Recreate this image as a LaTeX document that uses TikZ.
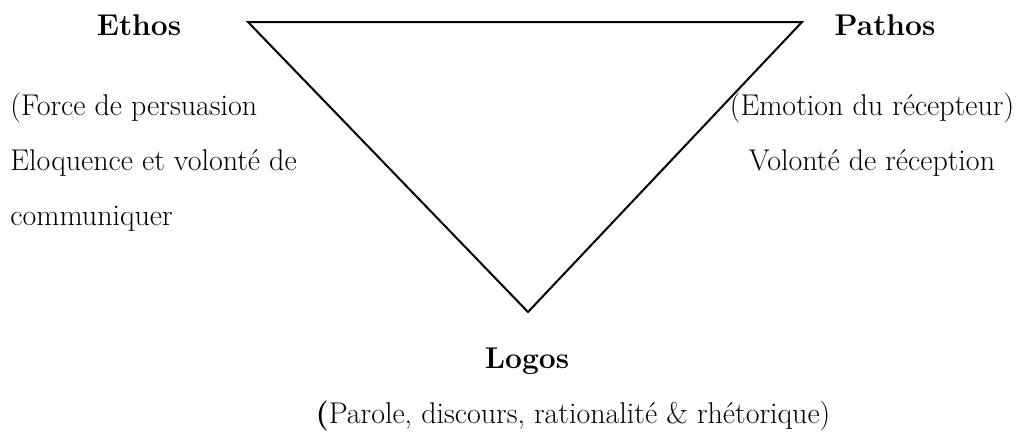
\documentclass[tikz,border=0pt]{standalone}
\usepackage{tikz}
\begin{document}
\begin{tikzpicture}[x=0.5pt,y=-0.5pt,
  lbl/.style={inner sep=0pt,font=\fontsize{15}{17}\selectfont\bfseries},
  txt/.style={inner sep=0pt,font=\fontsize{15}{27.5}\selectfont},
  tri/.style={black,line width=1pt}]
\useasboundingbox (0,0) rectangle (1035,434);
% triangle corners
\coordinate (ethos) at (248,22);
\coordinate (pathos) at (802,22);
\coordinate (logos) at (528,312);
\draw[tri] (ethos) -- (pathos) -- (logos) -- cycle;
% Ethos
\node[lbl,anchor=base] (ethoslbl) at (139,35) {Ethos};
\node[txt,align=left,anchor=base west] (ethostxt) at (10,225)
  {(Force de persuasion\\Eloquence et volonté de\\communiquer};
% Pathos
\node[lbl,anchor=base] (pathoslbl) at (885,35) {Pathos};
\node[txt,align=center,anchor=base] (pathostxt) at (872,170)
  {(Emotion du récepteur)\\Volonté de réception};
% Logos
\node[lbl,anchor=base] (logoslbl) at (527,368) {Logos};
\node[txt,anchor=base] (logostxt) at (573,423)
  {\textbf{(}Parole, discours, rationalité \& rhétorique)};
\end{tikzpicture}
\end{document}
